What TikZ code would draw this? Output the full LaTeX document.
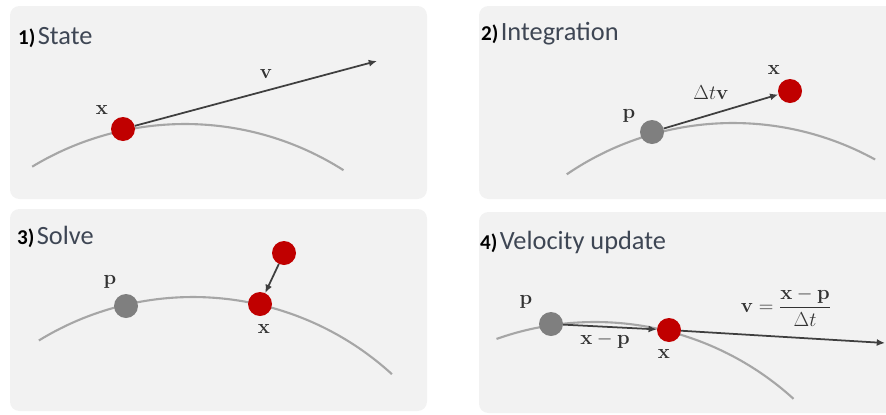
\documentclass[tikz,border=0pt]{standalone}
\usepackage{amsmath}
\usepackage[no-math]{fontspec}
\setmainfont{Carlito}
\usepackage{tikz}
\usetikzlibrary{arrows.meta,positioning,calc}
\definecolor{panelgray}{HTML}{F2F2F2}
\definecolor{trackgray}{HTML}{A6A6A6}
\definecolor{dotred}{HTML}{C00000}
\definecolor{dotgray}{HTML}{7F7F7F}
\definecolor{arrowgray}{HTML}{3F3F3F}
\definecolor{labgray}{HTML}{333333}
\definecolor{titlegray}{HTML}{3E4654}
\newcommand{\panelno}[1]{{\bfseries\color{black}\fontsize{18}{22}\selectfont #1)}\kern2pt}
\tikzset{
  panel/.style={fill=panelgray,rounded corners=8pt},
  track/.style={draw=trackgray,line width=1.8pt},
  reddot/.style={circle,fill=dotred,minimum size=0.72cm,inner sep=0pt},
  graydot/.style={circle,fill=dotgray,minimum size=0.72cm,inner sep=0pt},
  move/.style={-{Latex[length=7pt,width=6pt]},draw=arrowgray,line width=1.5pt},
  vlab/.style={font=\fontsize{18.5}{21}\selectfont,text=labgray,inner sep=0pt},
  ttl/.style={anchor=base west,font=\fontsize{22.5}{26}\selectfont,text=titlegray,inner sep=0pt}
}

\begin{document}
\begin{tikzpicture}[x=0.03cm,y=0.03cm]
  \useasboundingbox (0,0) rectangle (886,-414);
  \clip (0,0) rectangle (886,-414);
  % panels
  \fill[panel] (10,-6) rectangle (427,-199);
  \fill[panel] (479,-6) rectangle (905,-199);
  \fill[panel] (10,-209) rectangle (427,-411);
  \fill[panel] (479,-212) rectangle (905,-413);
  \node[ttl] (t1) at (18,-44) {\panelno{1}State};
  \node[ttl] (t2) at (481,-40) {\panelno{2}Integration};
  \node[ttl] (t3) at (17,-244) {\panelno{3}Solve};
  \node[ttl] (t4) at (480,-249) {\panelno{4}Velocity update};

  % 1) state
  \coordinate (c1) at (185,-419);
  \draw[track] (c1) ++(121.2:295) arc[start angle=121.2,end angle=57.5,radius=8.85cm];
  \node[reddot] (x1) at (123,-129) {};
  \coordinate (v1) at (377,-61);
  \draw[move] (x1) -- (v1);
  \node[vlab] (lx1) at (102,-110) {$\mathbf{x}$};
  \node[vlab] (lv1) at (266,-74) {$\mathbf{v}$};

  % 2) integration
  \coordinate (c2) at (733,-418);
  \draw[track] (c2) ++(124.3:295) arc[start angle=124.3,end angle=61.2,radius=8.85cm];
  \node[graydot] (p2) at (652,-132) {};
  \node[reddot] (x2) at (790,-91) {};
  \draw[move] (p2) -- (x2);
  \node[vlab] (lp2) at (629,-116) {$\mathbf{p}$};
  \node[vlab] (lx2) at (774,-70) {$\mathbf{x}$};
  \node[vlab] (ld2) at (711,-93) {$\Delta t\mathbf{v}$};

  % 3) solve
  \coordinate (c3) at (193,-592);
  \draw[track] (c3) ++(121.5:295) arc[start angle=121.5,end angle=47.6,radius=8.85cm];
  \node[graydot] (p3) at (126,-306) {};
  \node[reddot] (x3) at (260,-304) {};
  \node[reddot] (y3) at (284,-253) {};
  \draw[move] (y3) -- (x3);
  \node[vlab] (lp3) at (110,-282) {$\mathbf{p}$};
  \node[vlab] (lx3) at (264,-329) {$\mathbf{x}$};

  % 4) velocity update
  \coordinate (c4) at (595,-617);
  \draw[track] (c4) ++(109.5:295) arc[start angle=109.5,end angle=47.7,radius=8.85cm];
  \node[graydot] (p4) at (551,-324) {};
  \node[reddot] (x4) at (669,-330) {};
  \coordinate (v4) at (885,-343);
  \draw[move] (p4) -- (x4);
  \draw[move] (x4) -- (v4);
  \node[vlab] (lp4) at (526,-302) {$\mathbf{p}$};
  \node[vlab] (ld4) at (605,-341) {$\mathbf{x}-\mathbf{p}$};
  \node[vlab] (lx4) at (664,-354) {$\mathbf{x}$};
  \node[vlab] (lv4) at (786,-307) {$\mathbf{v}=\dfrac{\mathbf{x}-\mathbf{p}}{\Delta t}$};
\end{tikzpicture}
\end{document}
